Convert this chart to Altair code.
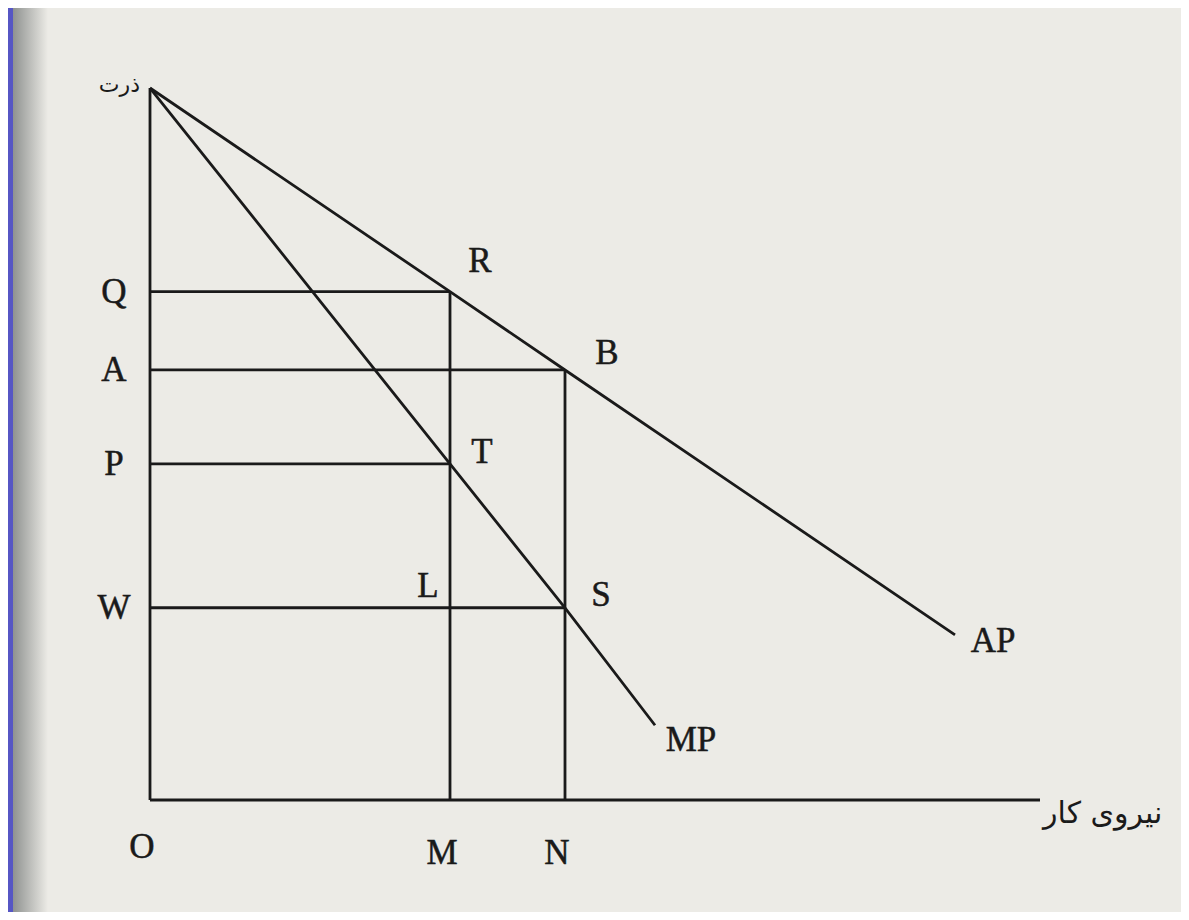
import altair as alt
import pandas as pd

# ---- values (labor on x, corn on y; arbitrary units) ----
corn_max = 10.0          # top of the corn axis (apex of AP / MP)
labor_max = 17.8         # end of the labor axis

levels = ["Q", "A", "P", "W"]
level_corn = [7.14, 6.04, 4.72, 2.70]
level_reach = [6.0, 8.3, 6.0, 8.3]

labor_marks = ["M", "N"]
labor_at = [6.0, 8.3]
labor_top = [7.14, 6.04]

ap_labor = [0.0, 6.0, 8.3, 16.1]
ap_corn = [10.0, 7.14, 6.04, 2.32]

mp_labor = [0.0, 6.0, 8.3, 10.1]
mp_corn = [10.0, 4.72, 2.70, 1.05]

point_names = ["R", "B", "T", "S", "L"]
point_labor = [6.0, 8.3, 6.0, 8.3, 6.0]
point_corn = [7.14, 6.04, 4.72, 2.70, 2.70]

y_title = "ذرت"
x_title = "نیروی کار"

# ---- scales / styles ----
W, H = 1173, 904
xs = alt.Scale(domain=[-2.84, 20.62], nice=False, zero=False)
ys = alt.Scale(domain=[-1.573, 11.124], nice=False, zero=False)
INK = "#1a1a1a"
BG = "#ecebe6"
SERIF = "Liberation Serif"
LW = 2.8


def X(field):
    return alt.X(field, type="quantitative", scale=xs, axis=None)


def Y(field):
    return alt.Y(field, type="quantitative", scale=ys, axis=None)


# axes as segments
axes_df = pd.DataFrame({
    "x": [0.0, 0.0], "x2": [0.0, labor_max],
    "y": [0.0, 0.0], "y2": [corn_max, 0.0],
})
seg_h = pd.DataFrame({"x": [0.0] * len(levels), "x2": level_reach,
                      "y": level_corn, "y2": level_corn})
seg_v = pd.DataFrame({"x": labor_at, "x2": labor_at,
                      "y": [0.0] * len(labor_at), "y2": labor_top})
segs = pd.concat([axes_df, seg_h, seg_v], ignore_index=True)

rules = alt.Chart(segs).mark_rule(color=INK, strokeWidth=LW).encode(
    x=X("x"), x2="x2", y=Y("y"), y2="y2")

curves = pd.concat([
    pd.DataFrame({"curve": "AP", "labor": ap_labor, "corn": ap_corn, "o": range(len(ap_labor))}),
    pd.DataFrame({"curve": "MP", "labor": mp_labor, "corn": mp_corn, "o": range(len(mp_labor))}),
], ignore_index=True)

lines = alt.Chart(curves).mark_line(color=INK, strokeWidth=LW).encode(
    x=X("labor"), y=Y("corn"), detail="curve:N", order="o:Q")


def label(text, xv, yv, dx=0, dy=0, align="center", font=SERIF, size=35, sw=0.5):
    df = pd.DataFrame({"t": [text], "x": [xv], "y": [yv]})
    props = dict(font=font, fontSize=size, color=INK, align=align,
                 baseline="middle", dx=dx, dy=dy)
    if sw > 0:
        props.update(stroke=INK, strokeWidth=sw)
    return alt.Chart(df).mark_text(**props).encode(
        x=X("x"), y=Y("y"), text="t:N")


labels = []
for n, c in zip(levels, level_corn):
    labels.append(label(n, 0.0, c, dx=-36))
for n, lx in zip(labor_marks, labor_at):
    labels.append(label(n, lx, 0.0, dx=-8, dy=53))
labels.append(label("O", 0.0, 0.0, dx=-8, dy=47))
offsets = {"R": (30, -31), "B": (42, -17), "T": (32, -12), "S": (36, -13), "L": (-22, -22)}
for n, lx, cy in zip(point_names, point_labor, point_corn):
    dx, dy = offsets[n]
    labels.append(label(n, lx, cy, dx=dx, dy=dy))
labels.append(label("AP", ap_labor[-1], ap_corn[-1], dx=38, dy=6))
labels.append(label("MP", mp_labor[-1], mp_corn[-1], dx=36, dy=15))
labels.append(label(y_title, 0.0, corn_max, dx=-10, dy=-3, align="right",
                    font="DejaVu Sans", size=22, sw=0))
labels.append(label(x_title, labor_max, 0.0, dx=3, dy=14, align="left",
                    font="DejaVu Sans", size=30, sw=0))

# page edge decoration (blue slide border and page shadow)
edge = alt.Chart(pd.DataFrame({"k": [0]})).mark_rect(color="#5656c4").encode(
    x=alt.value(0), x2=alt.value(5), y=alt.value(0), y2=alt.value(H))
shade = alt.Chart(pd.DataFrame({"k": [0]})).mark_rect(
    color=alt.LinearGradient(gradient="linear", x1=0, x2=1, y1=0, y2=0,
                             stops=[alt.GradientStop(color="#8f9290", offset=0),
                                    alt.GradientStop(color=BG, offset=1)])
).encode(x=alt.value(5), x2=alt.value(40), y=alt.value(0), y2=alt.value(H))

chart = alt.layer(edge, shade, rules, lines, *labels).properties(
    width=W, height=H, background=BG, padding=0,
    autosize=alt.AutoSizeParams(type="none"),
).configure_view(stroke=None)

chart.save("out.html", embed_options={"renderer": "svg", "actions": False})
